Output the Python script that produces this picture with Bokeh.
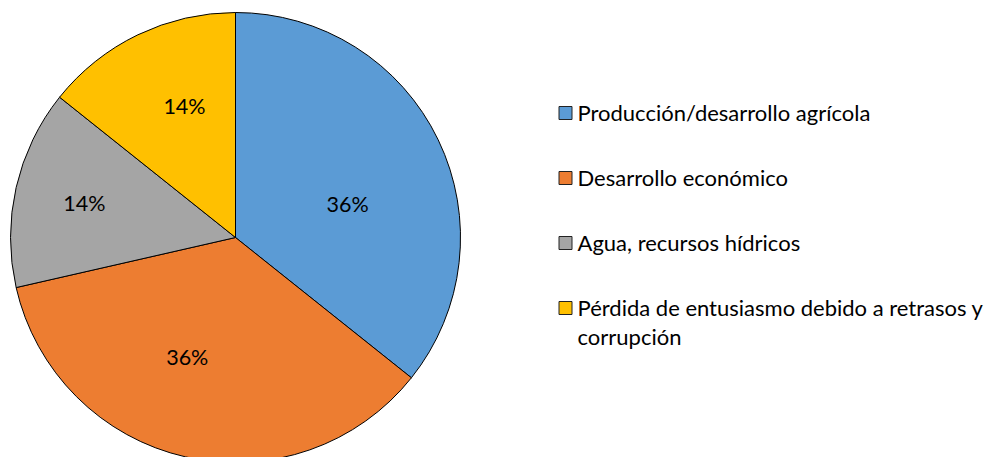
import math
from bokeh.plotting import figure
from bokeh.models import Range1d
from bokeh.core.properties import value
from bokeh.embed import file_html
from bokeh.resources import INLINE

# ---- data ----
categories = [
    "Producción/desarrollo agrícola",
    "Desarrollo económico",
    "Agua, recursos hídricos",
    "Pérdida de entusiasmo debido a retrasos y corrupción",
]
legend_lines = [
    ["Producción/desarrollo agrícola"],
    ["Desarrollo económico"],
    ["Agua, recursos hídricos"],
    ["Pérdida de entusiasmo debido a retrasos y", "corrupción"],
]
counts = [5, 5, 2, 2]
colors = ["#5B9BD5", "#ED7D31", "#A5A5A5", "#FFC000"]

# ---- layout / style ----
W, H = 995, 457
CX, CY, R = 235, 237, 225          # pixel coords (top-down)
FONT = "Lato"
LABEL_SIZE = "21.5px"
LEGEND_SIZE = "22px"
label_angle_shift = [-9.2, -9.1, 0.0, -4.5]
label_radius = [117, 129, 155, 141]

p = figure(width=W, height=H, output_backend="svg", toolbar_location=None,
           x_range=Range1d(0, W), y_range=Range1d(0, H),
           min_border=0, min_border_left=0, min_border_right=0,
           min_border_top=0, min_border_bottom=0)
p.axis.visible = False
p.grid.visible = False
p.outline_line_color = None
p.background_fill_color = "white"
p.border_fill_color = "white"

def Y(y):
    return H - y

total = sum(counts)
starts, ends, mids = [], [], []
a = 90.0
for c in counts:
    sweep = 360.0 * c / total
    ends.append(math.radians(a))
    starts.append(math.radians(a - sweep))
    mids.append(a - sweep / 2)
    a -= sweep

p.wedge(x=[CX] * len(counts), y=[Y(CY)] * len(counts), radius=R,
        start_angle=starts, end_angle=ends, direction="anticlock",
        fill_color=colors, line_color="black", line_width=1)

# percentage labels
pct = [f"{round(100 * c / total)}%" for c in counts]
lx, ly = [], []
for m, s, r in zip(mids, label_angle_shift, label_radius):
    ang = math.radians(m + s)
    lx.append(CX + r * math.cos(ang))
    ly.append(Y(CY - r * math.sin(ang)))
p.text(x=lx, y=ly, text=pct, text_align="center", text_baseline="middle",
       text_font=value(FONT), text_font_size=LABEL_SIZE, text_color="#000000")

# legend
LEG_X_MARK, LEG_X_TEXT = 565, 577
LEG_Y0, LEG_DY, LINE_DY = 112, 65, 29
mx, my, tx, ty, tt = [], [], [], [], []
for i, lines in enumerate(legend_lines):
    center = LEG_Y0 + LEG_DY * i
    mx.append(LEG_X_MARK)
    my.append(Y(center + 0.5))
    for j, line in enumerate(lines):
        tx.append(LEG_X_TEXT)
        ty.append(Y(center + LINE_DY * j))
        tt.append(line)
p.scatter(x=mx, y=my, marker="square", size=13, fill_color=colors,
          line_color="#222222", line_width=1)
p.text(x=tx, y=ty, text=tt, text_align="left", text_baseline="middle",
       text_font=value(FONT), text_font_size=LEGEND_SIZE, text_color="#000000")

open("out.html", "w").write(file_html(p, INLINE))
